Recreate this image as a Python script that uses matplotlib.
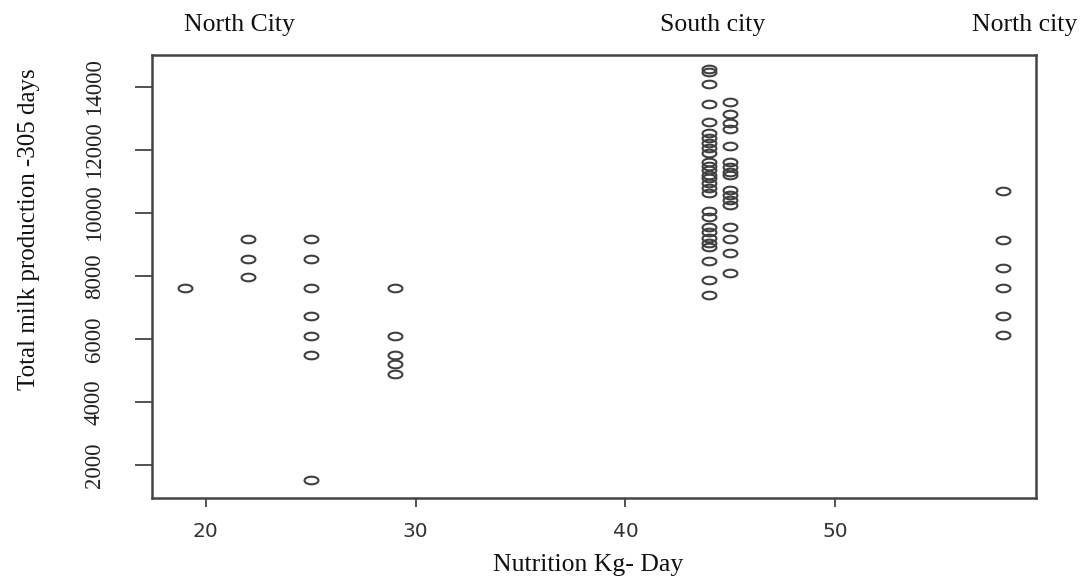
import numpy as np
import matplotlib
matplotlib.use("Agg")
import matplotlib.pyplot as plt
import matplotlib.transforms as mtransforms

# ---- data ----
nutrition_19 = [19]
milk_19 = [7620]
nutrition_22 = [22, 22, 22]
milk_22 = [9160, 8530, 7950]
nutrition_25 = [25] * 7
milk_25 = [9160, 8530, 7620, 6730, 6100, 5500, 1530]
nutrition_29 = [29] * 5
milk_29 = [7620, 6100, 5500, 5200, 4880]
nutrition_44 = [44] * 28
milk_44 = [14560, 14460, 14080, 13460, 12890, 12520, 12360, 12200, 12050, 11890,
           11610, 11480, 11360, 11200, 11100, 10950, 10790, 10630, 10060, 9880,
           9560, 9400, 9190, 9030, 8920, 8470, 7870, 7390]
nutrition_45 = [45] * 17
milk_45 = [13520, 13120, 12840, 12660, 12130, 11600, 11440, 11290, 11200, 10720,
           10560, 10410, 10250, 9560, 9160, 8720, 8080]
nutrition_58 = [58] * 6
milk_58 = [10680, 9150, 8240, 7630, 6740, 6120]

x_ticks = [20, 30, 40, 50]
y_ticks = [2000, 4000, 6000, 8000, 10000, 12000, 14000]
city_labels = ["North City", "South city", "North city"]
city_label_x = [21.6, 44.15, 59.0]

nutrition = (nutrition_19 + nutrition_22 + nutrition_25 + nutrition_29 +
             nutrition_44 + nutrition_45 + nutrition_58)
milk = milk_19 + milk_22 + milk_25 + milk_29 + milk_44 + milk_45 + milk_58

# ---- figure ----
fig = plt.figure(figsize=(10.85, 5.77), dpi=100)
ax = fig.add_axes([152 / 1085, 1 - 498 / 577, 884 / 1085, 443 / 577])

# elliptical open-circle marker (R points look stretched in the reference)
t = np.linspace(0, 2 * np.pi, 60)
ellipse = list(zip(np.cos(t), 0.55 * np.sin(t)))

ax.plot(nutrition, milk, linestyle="none", marker=ellipse, markersize=10,
        markerfacecolor="none", markeredgecolor="#404040", markeredgewidth=1.5)

ax.set_xlim(17.44, 59.56)
ax.set_ylim(955, 15005)

for s in ax.spines.values():
    s.set_linewidth(1.8)
    s.set_color("#444444")

serif = ["Liberation Serif", "DejaVu Serif"]

ax.set_xticks(x_ticks)
ax.set_xticklabels([str(v) for v in x_ticks], fontsize=14.5,
                   family=["DejaVu Sans"], color="#333333")
ax.tick_params(axis="x", direction="out", length=6.5, width=1.3,
               color="#444444", pad=11)

ax.set_yticks(y_ticks)
ax.set_yticklabels([str(v) for v in y_ticks], fontsize=16.5, family=serif,
                   color="#222222", rotation=90, va="center")
ax.tick_params(axis="y", direction="out", length=12, width=1.3,
               color="#444444", pad=22)

ax.set_xlabel("Nutrition Kg- Day", fontsize=18.5, family=serif, color="#111111")
ax.xaxis.set_label_coords(0.493, -0.151)
ax.xaxis.label.set_va("center")

ax.set_ylabel("Total milk production -305 days", fontsize=18, family=serif,
              color="#111111")
ax.yaxis.set_label_coords(-0.139, 0.607)
ax.yaxis.label.set_va("center")

trans = mtransforms.blended_transform_factory(ax.transData, ax.transAxes)
for lab, xp in zip(city_labels, city_label_x):
    ax.text(xp, 1.068, lab, transform=trans, ha="center", va="center",
            fontsize=18.5, family=serif, color="#111111", clip_on=False)

fig.savefig("out.png", dpi=100, facecolor="white")
